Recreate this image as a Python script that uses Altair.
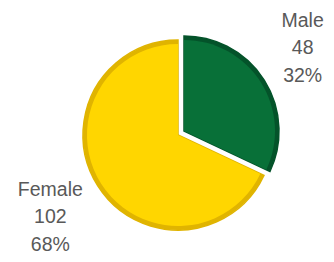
import altair as alt
import pandas as pd

categories = ["Male", "Female"]
counts = [48, 102]
percents = ["32%", "68%"]
colors = {"Male": "#087038", "Female": "#FFD600"}
rim_colors = {"Male": "#04532A", "Female": "#E0B400"}

df = pd.DataFrame({"category": categories, "count": counts, "pct": percents, "order": [0, 1]})
df["label"] = df["category"] + "\n" + df["count"].astype(str) + "\n" + df["pct"]

cx, cy, R = 170, 127, 95

base = alt.Chart(df).encode(
    theta=alt.Theta("count:Q", stack=True),
    order=alt.Order("order:Q"),
    x=alt.value(cx),
    y=alt.value(cy),
)

def show(cat):
    return alt.condition(alt.datum.category == cat, alt.value(1), alt.value(0))

layers = []
for cat, dx, dy in [("Female", 0, 0), ("Male", 6, -4)]:
    layers.append(base.mark_arc(radius=R, xOffset=dx, yOffset=dy, color=rim_colors[cat],
                                stroke=rim_colors[cat], strokeWidth=1.5).encode(opacity=show(cat)))
    layers.append(base.mark_arc(radius=R - 4, xOffset=dx, yOffset=dy, color=colors[cat]).encode(opacity=show(cat)))

text_offsets = {"Male": (-2, -34), "Female": (-1, -25.5)}
for cat in categories:
    ox, oy = text_offsets[cat]
    layers.append(base.mark_text(
        radius=150, fontSize=19.5, font="Liberation Sans", color="#595959",
        lineBreak="\n", lineHeight=27.5, align="center", baseline="middle",
        xOffset=ox, yOffset=oy,
    ).encode(text="label:N", opacity=show(cat)))

chart = alt.layer(*layers).properties(
    width=318, height=246, padding=0, autosize="none"
).configure_view(stroke=None)

chart.save("out.html", embed_options={"renderer": "svg", "actions": False})
